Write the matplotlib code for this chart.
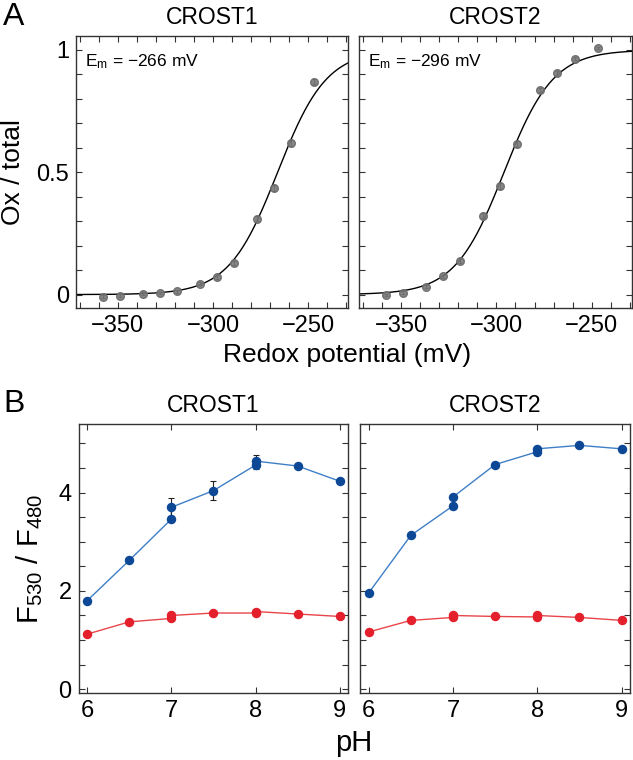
import numpy as np
import matplotlib
matplotlib.use('Agg')
import matplotlib.pyplot as plt
from matplotlib.ticker import MultipleLocator

plt.rcParams['font.family'] = ['Liberation Sans', 'DejaVu Sans']
plt.rcParams['mathtext.default'] = 'regular'

#### A. redox titration data
redox_mv = [-358, -349, -337, -328, -319, -307, -298, -289, -277, -268, -259, -247]
ox_crost1 = [-0.008, -0.004, 0.003, 0.007, 0.014, 0.044, 0.071, 0.128, 0.31, 0.434, 0.618, 0.871]
ox_crost2 = [-0.001, 0.008, 0.033, 0.074, 0.139, 0.323, 0.443, 0.617, 0.837, 0.905, 0.965, 1.007]
err_crost1 = [0.006, 0.005, 0.006, 0.005, 0.006, 0.006, 0.007, 0.008, 0.01, 0.012, 0.012, 0.01]
err_crost2 = [0.005, 0.006, 0.006, 0.006, 0.008, 0.01, 0.012, 0.012, 0.008, 0.008, 0.006, 0.005]
em_values = [-266, -296]   # fitted midpoint potentials
n_electrons = 2

#### B. pH dependence data
ph = [6, 6.5, 7, 7, 7.5, 8, 8, 8.5, 9]
blue_crost1 = [1.80, 2.62, 3.46, 3.70, 4.04, 4.56, 4.64, 4.54, 4.23]
blue_err1 = [0.03, 0.04, 0.05, 0.18, 0.20, 0.08, 0.12, 0.03, 0.03]
red_crost1 = [1.12, 1.37, 1.44, 1.50, 1.55, 1.55, 1.58, 1.53, 1.48]
red_err1 = [0.04, 0.03, 0.03, 0.03, 0.03, 0.03, 0.03, 0.03, 0.03]
blue_crost2 = [1.96, 3.13, 3.73, 3.91, 4.57, 4.83, 4.89, 4.96, 4.89]
blue_err2 = [0.03, 0.04, 0.06, 0.04, 0.03, 0.06, 0.04, 0.03, 0.05]
red_crost2 = [1.165, 1.40, 1.46, 1.50, 1.48, 1.47, 1.50, 1.46, 1.40]
red_err2 = [0.05, 0.04, 0.03, 0.03, 0.03, 0.03, 0.03, 0.03, 0.03]

names = ['CROST1', 'CROST2']
frame_col = '#333333'

fig = plt.figure(figsize=(6.33, 7.6), dpi=100)
axA = [fig.add_axes([0.120, 0.5947, 0.4297, 0.3579]),
       fig.add_axes([0.567, 0.5947, 0.4313, 0.3579])]
axB = [fig.add_axes([0.1243, 0.0886, 0.4259, 0.3532]),
       fig.add_axes([0.5692, 0.0886, 0.4260, 0.3532])]

def style(ax):
    ax.tick_params(direction='in', which='both', top=True, right=True,
                   length=4, width=0.8, color=frame_col, labelsize=17, pad=5)
    for s in ax.spines.values():
        s.set_color(frame_col)
        s.set_linewidth(1.0)

## panel A
e_fit = np.linspace(-372, -229, 300)
for i, ax in enumerate(axA):
    y = [ox_crost1, ox_crost2][i]
    err = [err_crost1, err_crost2][i]
    em = em_values[i]
    fit = 1 / (1 + np.exp(-n_electrons * (e_fit - em) / 25.7))
    ax.plot(e_fit, fit, color='black', lw=1.0, zorder=2)
    ax.errorbar(redox_mv, y, yerr=err, fmt='o', ms=5.5, mfc='#7a7a7a', mec='#6a6a6a',
                ecolor='black', elinewidth=0.8, capsize=1.5, capthick=0.8, zorder=3, alpha=0.9)
    ax.set_xlim(-372, -229)
    ax.set_ylim(-0.055, 1.057)
    ax.xaxis.set_major_locator(MultipleLocator(50))
    ax.xaxis.set_minor_locator(MultipleLocator(10))
    ax.yaxis.set_major_locator(MultipleLocator(0.5))
    ax.yaxis.set_minor_locator(MultipleLocator(0.1))
    ax.set_yticks([0, 0.5, 1])
    ax.set_yticklabels(['0', '0.5', '1'])
    ax.set_xticks([-350, -300, -250])
    ax.set_xticklabels(['\u2212350', '\u2212300', '\u2212250'])
    style(ax)
    ax.set_title(names[i], fontsize=16.5, pad=9)
    ax.text(0.035, 0.905, 'E$_{m}$ = \u2212%d mV' % abs(em), transform=ax.transAxes,
            fontsize=12.5, va='center', ha='left')
axA[1].tick_params(labelleft=False)
axA[0].set_ylabel('Ox / total', fontsize=19, labelpad=8)
fig.text(0.548, 0.533, 'Redox potential (mV)', fontsize=19, ha='center', va='center')

## panel B
for i, ax in enumerate(axB):
    b = [blue_crost1, blue_crost2][i]
    be = [blue_err1, blue_err2][i]
    r = [red_crost1, red_crost2][i]
    re = [red_err1, red_err2][i]
    ax.plot(ph, b, color='#3f7fc6', lw=1.0, zorder=2)
    ax.errorbar(ph, b, yerr=be, fmt='o', ms=5.8, mfc='#0c4896', mec='#0c4896',
                ecolor='#222222', elinewidth=0.8, capsize=2, capthick=0.8, zorder=3)
    ax.plot(ph, r, color='#e8454a', lw=1.0, zorder=2)
    ax.errorbar(ph, r, yerr=re, fmt='o', ms=5.8, mfc='#e3202c', mec='#e3202c',
                ecolor='#222222', elinewidth=0.8, capsize=1.5, capthick=0.8, zorder=3)
    ax.set_xlim(5.9, 9.1)
    ax.set_ylim(-0.07, 5.39)
    ax.set_xticks([6, 7, 8, 9])
    ax.yaxis.set_major_locator(MultipleLocator(2))
    ax.yaxis.set_minor_locator(MultipleLocator(0.5))
    style(ax)
    ax.set_title(names[i], fontsize=16.5, pad=9)
axB[1].tick_params(labelleft=False)
axB[0].set_ylabel('F$_{530}$ / F$_{480}$', fontsize=21, labelpad=10)
fig.text(0.558, 0.022, 'pH', fontsize=21, ha='center', va='center')

fig.text(0.005, 0.978, 'A', fontsize=23, ha='left', va='center')
fig.text(0.005, 0.468, 'B', fontsize=23, ha='left', va='center')

fig.savefig('out.png', dpi=100)
